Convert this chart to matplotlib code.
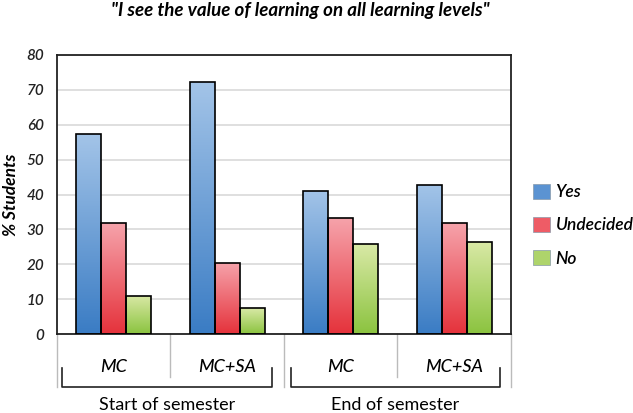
import numpy as np
import matplotlib
matplotlib.use("Agg")
import matplotlib.pyplot as plt
from matplotlib.colors import LinearSegmentedColormap
from matplotlib.patches import Patch

# values (% students)
groups = ["MC", "MC+SA", "MC", "MC+SA"]
periods = ["Start of semester", "End of semester"]
series = ["Yes", "Undecided", "No"]
yes = [57.2, 72.1, 41.1, 42.7]
undecided = [31.7, 20.5, 33.2, 31.7]
no = [11.0, 7.4, 25.7, 26.4]

# gradient (top colour, bottom colour) per series
grads = [("#a3c4e8", "#3a7cc4"), ("#f6a3ab", "#e5323b"), ("#d9e9a6", "#8bc33f")]
mids = ["#5b93d2", "#ee5c66", "#aed46b"]

plt.rcParams['font.family'] = ['Lato', 'DejaVu Sans']

fig = plt.figure(figsize=(6.33, 4.13), dpi=100)
ax = fig.add_axes([0.090, 0.191, 0.717, 0.676])

x = np.arange(len(groups))
w = 0.22
vals = [yes, undecided, no]
for i, v in enumerate(vals):
    bars = ax.bar(x + (i - 1) * w, v, width=w, color="none",
                  edgecolor="black", linewidth=1.2, zorder=3)
    cmap = LinearSegmentedColormap.from_list("g%d" % i, [grads[i][1], grads[i][0]])
    grad = np.linspace(0, 1, 256).reshape(-1, 1)
    for b in bars:
        x0, y0 = b.get_x(), b.get_y()
        im = ax.imshow(grad, cmap=cmap, aspect="auto", origin="lower",
                       extent=[x0, x0 + b.get_width(), y0, y0 + b.get_height()],
                       zorder=2)
        im.set_clip_path(b)

ax.set_xlim(-0.5, 3.5)
ax.set_ylim(0, 80)
ax.set_yticks(range(0, 81, 10))
ax.yaxis.grid(True, color="#d9d9d9", linewidth=1.2, zorder=0)
ax.set_axisbelow(True)
ax.set_xticks([])
ax.tick_params(axis="y", length=0, pad=9)
for lab in ax.get_yticklabels():
    lab.set_fontstyle("italic")
    lab.set_fontweight("semibold")
    lab.set_fontsize(11)
    lab.set_color("#222222")
for s in ax.spines.values():
    s.set_linewidth(1.3)
    s.set_color("#222222")

fig.text(0.017, 0.528, "% Students", rotation=90, ha="center", va="center",
         fontsize=12.5, fontweight="bold", fontstyle="italic")

# category labels and separators below the axis
tr = ax.get_xaxis_transform()
for i, b in enumerate([-0.5, 0.5, 1.5, 2.5, 3.5]):
    yb = -0.19 if i % 2 == 0 else -0.154
    ax.plot([b, b], [0, yb], color="#bbbbbb", lw=1, transform=tr, clip_on=False)
for xi, g in zip(x, groups):
    ax.text(xi, -0.117, g, transform=tr, ha="center", va="center",
            fontsize=13, fontstyle="italic", fontweight="medium")

# brackets under each period
spans = [(-0.459, 1.392), (1.559, 3.403)]
for (a, b), p in zip(spans, periods):
    ax.plot([a, a, b, b], [-0.122, -0.19, -0.19, -0.122], color="#222222",
            lw=1.2, transform=tr, clip_on=False)
    ax.text((a + b) / 2, -0.254, p, transform=tr, ha="center", va="center",
            fontsize=13)

handles = [Patch(facecolor=mids[i], edgecolor="#8899aa", lw=0.5, label=series[i])
           for i in range(3)]
leg = fig.legend(handles=handles, loc="center left", bbox_to_anchor=(0.842, 0.455),
                 frameon=False, handlelength=1.0, handleheight=1.0,
                 handletextpad=0.3, labelspacing=0.95, borderpad=0, borderaxespad=0,
                 prop={"size": 12.5, "style": "italic", "weight": "semibold"})

fig.text(0.474, 0.975, '"I see the value of learning on all learning levels"',
         ha="center", va="center", fontsize=13.5, fontweight="bold",
         fontstyle="italic")

fig.savefig("out.png", dpi=100)
